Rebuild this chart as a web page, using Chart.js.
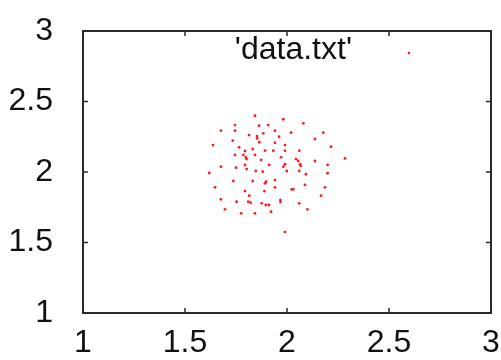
<!DOCTYPE html>
<html>
<head>
<meta charset="utf-8">
<script src="https://cdn.jsdelivr.net/npm/chart.js@4.4.0/dist/chart.umd.min.js"></script>
<style>
  html, body { margin: 0; padding: 0; background: #fff; }
  #wrap { width: 501px; height: 360px; }
</style>
</head>
<body>
<div id="wrap"><canvas id="myChart"></canvas></div>
<script>
// points read from data.txt (x, y)
var xs = [1.843, 1.745, 1.863, 1.908, 1.676, 1.745, 1.814, 1.853, 1.853, 1.884,
          1.961, 1.734, 1.864, 1.637, 1.765, 1.832, 1.892, 1.933, 1.794, 1.745,
          1.786, 1.798, 1.843, 1.971, 1.802, 1.873, 1.676, 1.750, 1.794, 1.913,
          1.802, 1.847, 1.881, 1.619, 1.982, 2.080, 1.941, 2.020, 2.178, 2.137,
          1.941, 1.990, 2.216, 1.990, 2.060, 2.044, 2.055, 2.137, 2.284, 1.990,
          1.982, 2.064, 2.067, 2.199, 1.999, 2.060, 2.093, 2.199, 1.737, 1.832,
          1.897, 1.892, 1.941, 1.647, 1.941, 1.794, 1.889, 1.815, 1.676, 1.753,
          1.810, 1.822, 1.876, 1.896, 1.912, 1.968, 1.968, 1.696, 1.922, 1.775,
          1.843, 2.023, 2.031, 2.088, 2.186, 2.167, 2.060, 2.100, 1.990];
var ys = [2.399, 2.333, 2.328, 2.333, 2.293, 2.293, 2.262, 2.255, 2.238, 2.274,
          2.250, 2.222, 2.211, 2.191, 2.175, 2.163, 2.151, 2.151, 2.149, 2.121,
          2.121, 2.104, 2.121, 2.104, 2.092, 2.085, 2.038, 2.031, 2.050, 2.050,
          2.021, 2.007, 2.002, 1.993, 2.374, 2.345, 2.293, 2.279, 2.279, 2.234,
          2.208, 2.191, 2.179, 2.151, 2.151, 2.092, 2.078, 2.078, 2.096, 2.055,
          2.038, 2.055, 2.043, 2.050, 2.007, 2.007, 1.984, 1.991, 1.936, 1.936,
          1.931, 1.920, 1.943, 1.891, 1.891, 1.865, 1.865, 1.832, 1.806, 1.789,
          1.789, 1.782, 1.778, 1.766, 1.766, 1.801, 1.787, 1.735, 1.718, 1.707,
          1.707, 1.877, 1.877, 1.908, 1.891, 1.832, 1.778, 1.735, 1.574];
var tickValues = [1, 1.5, 2, 2.5, 3];
var tickLabels = ['1', '1.5', '2', '2.5', '3'];
var seriesName = "'data.txt'";

var pointColor = '#ff1a1a';
var fontFamily = '"Liberation Sans", Arial, sans-serif';
var fontSize = 32;

var points = xs.map(function(x, i) { return { x: x, y: ys[i] }; });

// gnuplot style border with inward ticks on all four sides, plus the key
var frame = {
  id: 'frame',
  afterDatasetsDraw: function(chart) {
    var ctx = chart.ctx;
    var a = chart.chartArea;
    var sx = chart.scales.x, sy = chart.scales.y;
    var len = 5;
    ctx.save();
    ctx.strokeStyle = '#2a2a2a';
    ctx.lineWidth = 2;
    ctx.strokeRect(a.left, a.top, a.right - a.left, a.bottom - a.top);
    ctx.lineWidth = 1.5;
    ctx.beginPath();
    tickValues.forEach(function(v) {
      var px = sx.getPixelForValue(v);
      ctx.moveTo(px, a.bottom); ctx.lineTo(px, a.bottom - len);
      ctx.moveTo(px, a.top); ctx.lineTo(px, a.top + len);
      var py = sy.getPixelForValue(v);
      ctx.moveTo(a.left, py); ctx.lineTo(a.left + len, py);
      ctx.moveTo(a.right, py); ctx.lineTo(a.right - len, py);
    });
    ctx.stroke();

    // key: title right-aligned, sample point to its right
    ctx.fillStyle = '#111';
    ctx.font = fontSize + 'px ' + fontFamily;
    ctx.textAlign = 'right';
    ctx.textBaseline = 'middle';
    ctx.fillText(seriesName, a.right - 139, a.top + 19);
    ctx.fillStyle = pointColor;
    ctx.beginPath();
    ctx.arc(a.right - 82, a.top + 22, 1.3, 0, Math.PI * 2);
    ctx.fill();
    ctx.restore();
  }
};

function fixedTicks(s) {
  s.ticks = tickValues.map(function(v) { return { value: v }; });
}
function tickText(value) {
  var i = tickValues.indexOf(value);
  return i >= 0 ? tickLabels[i] : '';
}

var ctx = document.getElementById('myChart');
var chart = new Chart(ctx, {
  type: 'scatter',
  data: {
    datasets: [{
      label: seriesName,
      data: points,
      backgroundColor: pointColor,
      borderWidth: 0,
      pointRadius: 1.4,
      pointHoverRadius: 1.4
    }]
  },
  options: {
    responsive: true,
    maintainAspectRatio: false,
    animation: false,
    layout: { padding: { top: 31, right: 10, left: 0, bottom: 0 } },
    plugins: {
      legend: { display: false },
      tooltip: { enabled: false }
    },
    scales: {
      x: {
        type: 'linear',
        min: 1, max: 3,
        afterFit: function(s) { s.height = 47; s.paddingLeft = 0; s.paddingRight = 0; },
        afterBuildTicks: fixedTicks,
        grid: { display: false, drawTicks: false },
        border: { display: false },
        ticks: { color: '#111', padding: 11, callback: tickText,
                 font: { family: fontFamily, size: fontSize } }
      },
      y: {
        type: 'linear',
        min: 1, max: 3,
        afterFit: function(s) { s.width = 83; s.paddingTop = 0; s.paddingBottom = 0; },
        afterBuildTicks: fixedTicks,
        grid: { display: false, drawTicks: false },
        border: { display: false },
        ticks: { color: '#111', padding: 30, callback: tickText,
                 font: { family: fontFamily, size: fontSize } }
      }
    }
  },
  plugins: [frame]
});
</script>
</body>
</html>
